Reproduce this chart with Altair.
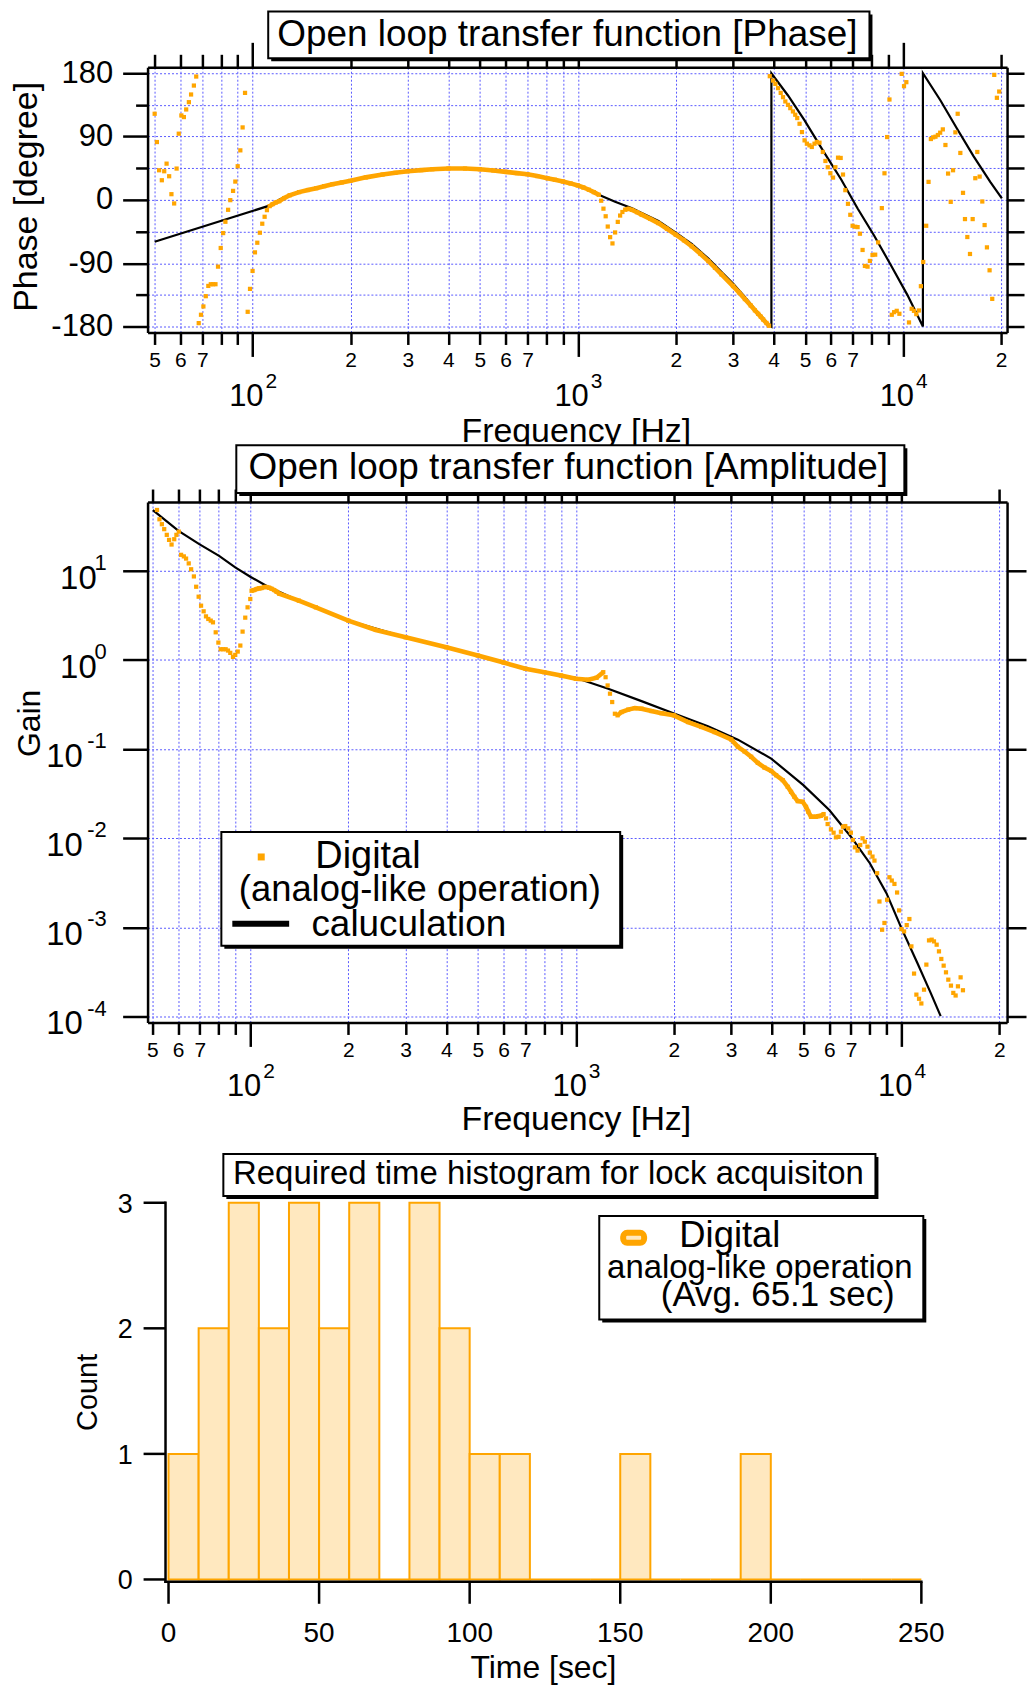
import altair as alt
import pandas as pd

FONT = "Liberation Sans"
ORANGE = "#FFA500"
LIGHT_ORANGE = "#FFE8BF"
GRID_BLUE = "#5a5aff"

# ============================ DATA ============================
# ---- Panel 1: open-loop phase [degree] vs frequency [Hz] ----
# measured (Digital, analog-like operation): scattered low-frequency points
PH_LOW_F = [50.0, 50.8, 51.6, 52.6, 53.5, 54.4, 55.4, 56.3, 57.4, 58.4, 59.3, 60.4, 61.5, 62.5,
            63.7, 64.7, 66.0, 67.1, 68.3, 69.4, 70.6, 71.8, 73.1, 74.4, 75.6, 76.9, 78.3, 79.8,
            81.2, 82.5, 84.1, 85.4, 87.1, 88.5, 90.0, 91.7, 93.2, 94.8, 96.6, 98.2, 100.0, 101.7,
            103.4, 105.3, 107.1, 108.9, 110.7]
PH_LOW_DEG = [122.4, 82.2, 42.1, 27.9, 40.7, 51.5, 33.6, 8.1, -5.1, 44.5, 94.1, 120.0, 117.7, 128.5,
              138.9, 149.8, 162.5, 175.3, -175.2, -163.3, -151.5, -136.9, -122.3, -119.9, -119.9,
              -119.9, -94.9, -68.4, -47.2, -31.1, -14.1, -0.4, 12.8, 26.0, 47.8, 70.4, 103.0, 152.1,
              -159.1, -126.5, -101.0, -74.6, -60.9, -46.7, -33.9, -24.0, -14.6]
# measured: dense band 113 Hz - 1.16 kHz
PH_BAND1_F = [112.8, 115.2, 117.9, 120.8, 125, 130, 139, 148, 157, 166, 176, 188, 200, 223, 251, 275,
              300, 330, 357, 400, 450, 500, 550, 600, 650, 700, 750, 806, 850, 900, 950, 1000, 1040,
              1081, 1120, 1160]
PH_BAND1_DEG = [-8.9, -6.1, -3.7, -1.8, 2.5, 6.5, 11.0, 14.0, 16.6, 19.5, 22.3, 24.8, 27.1, 32.0, 36.0,
                38.5, 40.7, 42.3, 43.5, 44.5, 44.5, 43.5, 41.8, 39.8, 38.0, 36.4, 33.8, 30.8, 28.6,
                26.1, 23.4, 20.5, 17.6, 14.4, 11.0, 7.3]
# measured: notch around 1.2-1.4 kHz
PH_DIP_F = [1180, 1199, 1218, 1236, 1257, 1278, 1302, 1327, 1349, 1371]
PH_DIP_DEG = [-1.2, -12.5, -23.3, -37.9, -53.0, -61.9, -46.3, -31.3, -22.3, -17.2]
# measured: dense band 1.4 - 3.9 kHz
PH_BAND2_F = [1398, 1430, 1468, 1520, 1571, 1670, 1769, 1880, 2000, 2120, 2239, 2380, 2520, 2640,
              2766, 3000, 3130, 3263, 3400, 3503, 3585, 3652, 3713, 3801, 3873]
PH_BAND2_DEG = [-13.9, -12.8, -14.2, -17.5, -21.0, -27.0, -33.0, -41.0, -49.5, -57.5, -66.0, -76.5,
                -87.0, -96.5, -106.0, -122.5, -131.5, -141.0, -150.0, -157.0, -162.0, -166.0,
                -170.0, -175.0, -179.0]
# measured: high-frequency points
PH_HIGH_F = [3892, 3985, 4050, 4127, 4205, 4275, 4345, 4428, 4500, 4585, 4661, 4727, 4805, 4887,
             4979, 5061, 5156, 5241, 5341, 5429, 5534, 5665, 5771, 5868, 5977, 6091, 6193, 6310,
             6429, 6536, 6644, 6770, 6882, 6996, 7129, 7247, 7369, 7508, 7632, 7777, 7906, 8055,
             8209, 8383, 8603, 8767, 8934, 9082, 9232, 9384, 9561, 9743, 9904, 10067, 10235, 10428,
             10626, 10801, 10980, 11186, 11344, 11534, 11780, 11977, 12175, 12378, 12580, 12794,
             13004, 13250, 13497, 13752, 14013, 14244, 14481, 14720, 15000, 15287, 15500, 15760,
             16060, 16368, 16676, 16913, 17197, 17522, 17811, 18108, 18450, 18801, 19067, 19430,
             19751]
PH_HIGH_DEG = [175.8, 169.6, 164.9, 158.8, 152.1, 146.0, 139.9, 135.1, 130.4, 125.7, 121.0, 116.3,
               108.2, 96.4, 84.6, 79.9, 77.5, 75.2, 79.9, 82.3, 81.3, 68.1, 55.3, 46.4, 37.9, 31.7,
               46.4, 60.0, 59.6, 36.0, 13.8, -5.6, -21.2, -36.8, -38.2, -38.7, -48.1, -71.2, -93.9,
               -94.9, -86.8, -78.3, -77.9, -60.4, -11.7, 37.8, 89.3, 142.7, -163.3, -159.6, -157.7,
               -161.9, 179.1, 161.6, 167.3, -174.2, -154.8, -157.7, -162.4, -157.2, -122.7, -88.3,
               -36.8, 25.6, 86.5, 88.9, 89.8, 92.2, 95.5, 100.2, 78.0, 37.4, -2.8, 42.1, 96.0, 122.4,
               66.7, 10.0, -27.3, -52.8, -76.9, -27.3, 30.8, 68.1, 33.1, -2.3, -35.8, -67.5, -100.1,
               -140.7, 177.7, 145.1, 154.0]
# calculation (drawn in order; wraps at +-180)
PH_CALC_F = [50.0, 113.9, 121, 130, 139, 157, 176, 200, 223, 251, 300, 357, 400, 450, 500, 550, 600,
             700, 806, 900, 1000, 1081, 1160, 1302, 1468, 1571, 1769, 2000, 2239, 2520, 2766, 3000,
             3263, 3500, 3712, 3848, 3937, 3937, 4428, 4979, 5691, 6446, 7249, 8152, 9167, 10307,
             11508, 11508, 13034, 14657, 16481, 18535, 20125]
PH_CALC_DEG = [-59.5, -7.5, 0.5, 6.5, 11.0, 16.6, 22.3, 27.1, 32.0, 36.0, 40.7, 43.5, 44.5, 44.5,
               43.5, 41.8, 39.8, 36.4, 30.8, 26.1, 20.5, 14.4, 7.3, -2.8, -12.0, -18.5, -30.0, -46.5,
               -62.5, -83.5, -102.5, -119.0, -138.0, -155.0, -168.0, -176.5, -180.0, 180.0, 148.4,
               112.9, 69.0, 29.4, -12.2, -50.9, -92.5, -135.0, -180.0, 180.0, 141.3, 101.1, 61.9,
               25.6, 2.0]

# ---- Panel 2: open-loop gain vs frequency [Hz] ----
AMP_LOW_F = [51.7, 52.6, 53.5, 54.4, 55.4, 56.3, 57.3, 58.4, 59.3, 60.3, 61.3, 62.5, 63.5, 64.7, 65.8,
             67.1, 68.2, 69.4, 70.6, 71.9, 73.1, 74.3, 75.6, 76.8, 78.3, 79.8, 81.1, 82.5, 84.0, 85.4,
             86.8, 88.5, 89.9, 91.5, 93.2, 94.7, 96.5, 98.1, 100.0]
AMP_LOW_G = [48.1, 37.8, 33.3, 29.3, 25.3, 22.2, 19.7, 22.6, 25.3, 27.5, 15.1, 14.5, 13.7, 12.1, 10.4,
             8.64, 6.62, 5.12, 4.06, 3.51, 3.08, 2.88, 2.76, 2.64, 2.04, 1.565, 1.318, 1.318, 1.318,
             1.274, 1.20, 1.082, 1.139, 1.241, 1.449, 2.078, 2.98, 3.89, 4.82]
AMP_BAND1_F = [100.9, 102.8, 104.5, 106.5, 108.3, 110.4, 112.2, 114.3, 116.2, 118.4, 120.4, 122.7, 141,
               159, 200, 243, 300, 400, 500, 600, 700, 800, 900, 1000, 1092, 1158, 1214]
AMP_BAND1_G = [5.97, 6.08, 6.24, 6.35, 6.40, 6.57, 6.57, 6.45, 6.29, 6.08, 5.82, 5.53, 4.62, 3.89, 2.76,
               2.17, 1.795, 1.387, 1.12, 0.935, 0.795, 0.729, 0.669, 0.614, 0.599, 0.631, 0.729]
AMP_DROP_F = [1234, 1252, 1273, 1293, 1318]
AMP_DROP_G = [0.64, 0.517, 0.418, 0.337, 0.249]
AMP_BAND2_F = [1343, 1381, 1448, 1518, 1591, 1707, 1831, 2000, 2211, 2428, 2669, 3000, 3146, 3297,
               3455, 3622, 3797, 3979, 4123, 4320, 4476, 4581, 4692, 4803, 4975, 5093, 5177, 5276,
               5362, 5465, 5557, 5661, 5768]
AMP_BAND2_G = [0.239, 0.26, 0.277, 0.288, 0.284, 0.267, 0.253, 0.239, 0.201, 0.177, 0.155, 0.128,
               0.106, 0.094, 0.082, 0.070, 0.062, 0.057, 0.0509, 0.0448, 0.0377, 0.0331, 0.0291,
               0.0261, 0.0256, 0.0225, 0.0198, 0.0174, 0.0174, 0.0174, 0.0177, 0.01786, 0.01865]
AMP_HIGH_F = [5865, 5934, 6075, 6190, 6293, 6412, 6519, 6612, 6722, 6866, 6996, 7096, 7197, 7333, 7472,
              7595, 7721, 7865, 7998, 8150, 8265, 8422, 8561, 8724, 8868, 9037, 9189, 9341, 9518,
              9698, 9837, 10000, 10190, 10383, 10580, 10731, 10935, 11116, 11327, 11514, 11733,
              11929, 12155, 12386, 12590, 12830, 13042, 13260, 13482, 13705, 13932, 14196, 14433,
              14672, 14916, 15199, 15452]
AMP_HIGH_G = [0.01668, 0.01442, 0.01257, 0.01153, 0.01023, 0.0104, 0.01183, 0.01346, 0.01369, 0.0129,
              0.01153, 0.00955, 0.0079, 0.00726, 0.00839, 0.00997, 0.00915, 0.00804, 0.00689,
              0.00622, 0.00561, 0.00405, 0.00195, 0.00094, 0.00112, 0.00204, 0.00365, 0.00335,
              0.00307, 0.00246, 0.00155, 0.000956, 0.0009, 0.00106, 0.00124, 0.000612, 0.000303,
              0.000176, 0.000158, 0.00014, 0.0002, 0.000382, 0.000714, 0.000727, 0.000696, 0.000639,
              0.000538, 0.000442, 0.000372, 0.000313, 0.000259, 0.000222, 0.000184, 0.000172,
              0.000218, 0.000275, 0.000197]
AMP_CALC_F = [50.2, 60.2, 69.7, 80.2, 89.9, 100, 113, 141, 200, 300, 400, 500, 600, 700, 800, 900, 997,
              1257, 1591, 2012, 2545, 3146, 3981, 4998, 6003, 6996, 7998, 8995, 9953, 11194, 12298,
              13199]
AMP_CALC_G = [47.8, 28.0, 19.9, 14.7, 10.9, 8.57, 6.67, 4.62, 2.76, 1.795, 1.387, 1.12, 0.935, 0.795,
              0.729, 0.669, 0.631, 0.475, 0.345, 0.249, 0.18, 0.1276, 0.0782, 0.0394, 0.0207, 0.0104,
              0.00524, 0.00242, 0.00102, 0.000398, 0.000184, 0.000101]

# ---- Panel 3: histogram of lock-acquisition time ----
HIST_BIN_START = [0, 10, 20, 30, 40, 50, 60, 70, 80, 90, 100, 110, 120, 130, 140, 150, 160, 170, 180,
                  190, 200, 210, 220, 230, 240]
HIST_COUNT = [1, 2, 3, 2, 3, 2, 3, 0, 3, 2, 1, 1, 0, 0, 0, 1, 0, 0, 0, 1, 0, 0, 0, 0, 0]
HIST_BIN_WIDTH = 10

# ---- ticks / labels ----
FREQ_TICKS = [50, 60, 70, 80, 90, 100, 200, 300, 400, 500, 600, 700, 800, 900,
              1000, 2000, 3000, 4000, 5000, 6000, 7000, 8000, 9000, 10000, 20000]
FREQ_TICK_TEXT = ["5", "6", "7", "", "", "", "2", "3", "4", "5", "6", "7", "", "",
                  "", "2", "3", "4", "5", "6", "7", "", "", "", "2"]
DECADE_FREQ = [100, 1000, 10000]
DECADE_FREQ_EXP = ["2", "3", "4"]
PHASE_TICKS = [-180, -135, -90, -45, 0, 45, 90, 135, 180]
GAIN_DECADE_EXP = [1, 0, -1, -2, -3, -4]
HIST_X_TICKS = [0, 50, 100, 150, 200, 250]
HIST_Y_TICKS = [0, 1, 2, 3]

# ============================ HELPERS ============================
ONE = pd.DataFrame({"k": [0]})
MAJOR_TEST = "indexof([" + ",".join(map(str, DECADE_FREQ)) + "], datum.value) >= 0"
FREQ_LABEL_EXPR = ("[" + ",".join("'%s'" % t for t in FREQ_TICK_TEXT) + "][indexof(["
                   + ",".join(map(str, FREQ_TICKS)) + "], datum.value)]")
GRID = dict(grid=True, gridColor=GRID_BLUE, gridDash=[2, 2], gridWidth=1, gridOpacity=1)


def cond(test, big, small):
    return {"condition": {"test": test, "value": big}, "value": small}


def axis(**kw):
    base = dict(title=None, tickColor="black", tickWidth=2.5, domainColor="black", domainWidth=2.5,
                labelFont=FONT, labelColor="black", labelOverlap=False, labelFlush=False, grid=False)
    base.update(kw)
    return alt.Axis(**base)


def text(t, x, y, size, align="center", baseline="alphabetic", angle=None):
    kw = dict(text=t, fontSize=size, align=align, baseline=baseline, font=FONT, color="black")
    if angle is not None:
        kw["angle"] = angle
    return alt.Chart(ONE).mark_text(**kw).encode(x=alt.value(x), y=alt.value(y))


def framed_box(x1, x2, y1, y2, shadow=3):
    sh = alt.Chart(ONE).mark_rect(color="black").encode(
        x=alt.value(x1 + shadow), x2=alt.value(x2 + shadow),
        y=alt.value(y1 + shadow), y2=alt.value(y2 + shadow))
    bx = alt.Chart(ONE).mark_rect(fill="white", stroke="black", strokeWidth=2).encode(
        x=alt.value(x1), x2=alt.value(x2), y=alt.value(y1), y2=alt.value(y2))
    return [sh, bx]


def decade_labels(xs, h):
    d = pd.DataFrame({"f": DECADE_FREQ, "e": DECADE_FREQ_EXP})
    base = alt.Chart(d).mark_text(text="10", fontSize=31, align="right", dx=11, baseline="alphabetic",
                                  font=FONT, color="black").encode(
        x=alt.X("f:Q", scale=xs, axis=None), y=alt.value(h + 74))
    ex = alt.Chart(d).mark_text(fontSize=21, align="left", dx=13, baseline="alphabetic",
                                font=FONT, color="black").encode(
        x=alt.X("f:Q", scale=xs, axis=None), y=alt.value(h + 56), text="e:N")
    return [base, ex]


def meas_layers(xs, ys, pts_df, band_df, bottom_ax, left_ax):
    band = alt.Chart(band_df).mark_line(color=ORANGE, strokeWidth=4.6).encode(
        x=alt.X("f:Q", scale=xs, axis=None), y=alt.Y("v:Q", scale=ys, axis=None), detail="seg:N")
    pts = alt.Chart(pts_df).mark_square(size=18, color=ORANGE, opacity=1).encode(
        x=alt.X("f:Q", scale=xs, axis=bottom_ax), y=alt.Y("v:Q", scale=ys, axis=left_ax))
    return [band, pts]


def bottom_freq_axis():
    return axis(orient="bottom", values=FREQ_TICKS, labelExpr=FREQ_LABEL_EXPR,
                tickSize=cond(MAJOR_TEST, 24, 12), labelFontSize=21, labelPadding=5, **GRID)


def top_freq_axis():
    return axis(orient="top", values=FREQ_TICKS, labels=False, tickSize=cond(MAJOR_TEST, 25, 13))


# ============================ PANEL 1: PHASE ============================
PH_W, PH_H = 862, 266
PH_X = alt.Scale(type="log", domain=[47.55, 20880], nice=False)
PH_Y = alt.Scale(type="linear", domain=[-188.5, 188.5], nice=False, zero=False)

ph_pts_df = pd.DataFrame({"f": PH_LOW_F + PH_BAND1_F + PH_DIP_F + PH_BAND2_F + PH_HIGH_F,
                          "v": PH_LOW_DEG + PH_BAND1_DEG + PH_DIP_DEG + PH_BAND2_DEG + PH_HIGH_DEG})
ph_band_df = pd.DataFrame({"f": PH_BAND1_F + PH_BAND2_F, "v": PH_BAND1_DEG + PH_BAND2_DEG,
                           "seg": [1] * len(PH_BAND1_F) + [2] * len(PH_BAND2_F)})
ph_calc_df = pd.DataFrame({"f": PH_CALC_F, "v": PH_CALC_DEG, "i": list(range(len(PH_CALC_F)))})

anchor = alt.Chart(ONE).mark_rect(opacity=0).encode(
    x=alt.value(-148), x2=alt.value(0), y=alt.value(-65), y2=alt.value(0))

ph_calc = alt.Chart(ph_calc_df).mark_line(color="black", strokeWidth=2.2).encode(
    x=alt.X("f:Q", scale=PH_X, axis=top_freq_axis()),
    y=alt.Y("v:Q", scale=PH_Y, axis=axis(orient="right", values=PHASE_TICKS, labels=False, tickSize=17)),
    order=alt.Order("i:Q"))

ph_left = axis(orient="left", values=PHASE_TICKS,
               labelExpr="datum.value % 90 == 0 ? '' + datum.value : ''",
               tickSize=cond("datum.value % 90 == 0", 25, 12), labelFontSize=31, labelPadding=10, **GRID)

phase = alt.layer(
    anchor, ph_calc,
    *meas_layers(PH_X, PH_Y, ph_pts_df, ph_band_df, bottom_freq_axis(), ph_left),
    *framed_box(121, 724, -56, -9),
    text("Open loop transfer function [Phase]", 421, -21, 37),
    *decade_labels(PH_X, PH_H),
    text("Frequency [Hz]", 430, PH_H + 110, 34),
    text("Phase [degree]", -121, 130, 34, baseline="middle", angle=270),
).properties(width=PH_W, height=PH_H)

# ============================ PANEL 2: AMPLITUDE ============================
AMP_W, AMP_H = 862, 522
AMP_X = alt.Scale(type="log", domain=[48.36, 21110], nice=False)
AMP_Y = alt.Scale(type="log", domain=[8.57e-5, 59.1], nice=False)

amp_pts_df = pd.DataFrame({"f": AMP_LOW_F + AMP_BAND1_F + AMP_DROP_F + AMP_BAND2_F + AMP_HIGH_F,
                           "v": AMP_LOW_G + AMP_BAND1_G + AMP_DROP_G + AMP_BAND2_G + AMP_HIGH_G})
amp_band_df = pd.DataFrame({"f": AMP_BAND1_F + AMP_BAND2_F, "v": AMP_BAND1_G + AMP_BAND2_G,
                            "seg": [1] * len(AMP_BAND1_F) + [2] * len(AMP_BAND2_F)})
amp_calc_df = pd.DataFrame({"f": AMP_CALC_F, "v": AMP_CALC_G, "i": list(range(len(AMP_CALC_F)))})

gain_ticks = [10.0 ** e for e in GAIN_DECADE_EXP]
amp_calc = alt.Chart(amp_calc_df).mark_line(color="black", strokeWidth=2.2).encode(
    x=alt.X("f:Q", scale=AMP_X, axis=top_freq_axis()),
    y=alt.Y("v:Q", scale=AMP_Y, axis=axis(orient="right", values=gain_ticks, labels=False, tickSize=19)),
    order=alt.Order("i:Q"))
amp_left = axis(orient="left", values=gain_ticks, labels=False, tickSize=25, **GRID)

gexp = pd.DataFrame({"e": GAIN_DECADE_EXP})
gexp["g"] = 10.0 ** gexp["e"]
gexp["t"] = gexp["e"].astype(str)
gpos = gexp[gexp["e"] >= 0]
gneg = gexp[gexp["e"] < 0]


def gain_labels(d, base_x):
    b = alt.Chart(d).mark_text(text="10", fontSize=33, align="right", baseline="alphabetic", dy=18,
                               font=FONT, color="black").encode(
        x=alt.value(base_x), y=alt.Y("g:Q", scale=AMP_Y, axis=None))
    e = alt.Chart(d).mark_text(fontSize=22, align="right", baseline="alphabetic", dy=-1,
                               font=FONT, color="black").encode(
        x=alt.value(-41), y=alt.Y("g:Q", scale=AMP_Y, axis=None), text="t:N")
    return [b, e]


amp_legend = [
    *framed_box(74, 474, 331, 445),
    alt.Chart(ONE).mark_square(size=49, color=ORANGE, opacity=1).encode(x=alt.value(114), y=alt.value(356)),
    text("Digital", 221, 367, 38),
    text("(analog-like operation)", 273, 400, 36.5),
    alt.Chart(ONE).mark_rule(color="black", strokeWidth=6).encode(
        x=alt.value(85), x2=alt.value(142), y=alt.value(423)),
    text("caluculation", 262, 435, 37),
]

amp = alt.layer(
    amp_calc,
    *meas_layers(AMP_X, AMP_Y, amp_pts_df, amp_band_df, bottom_freq_axis(), amp_left),
    *framed_box(89, 759, -57, -9),
    text("Open loop transfer function [Amplitude]", 422, -23, 37),
    *decade_labels(AMP_X, AMP_H),
    *gain_labels(gpos, -51),
    *gain_labels(gneg, -65),
    text("Frequency [Hz]", 430, AMP_H + 108, 34),
    text("Gain", -118, 222, 32, baseline="middle", angle=270),
    *amp_legend,
).properties(width=AMP_W, height=AMP_H)

# ============================ PANEL 3: HISTOGRAM ============================
HI_W, HI_H = 826, 391
HX = alt.Scale(domain=[-1, 272.5], nice=False, zero=False)
HY_MIN, HY_MAX = -0.019, 3.0859
HY = alt.Scale(domain=[HY_MIN, HY_MAX], nice=False, zero=False)

hist_df = pd.DataFrame({"start": HIST_BIN_START, "count": HIST_COUNT})
hist_df["end"] = hist_df["start"] + HIST_BIN_WIDTH

bars = alt.Chart(hist_df).mark_rect(fill=LIGHT_ORANGE, stroke=ORANGE, strokeWidth=2).encode(
    x=alt.X("start:Q", scale=HX, axis=None),
    x2="end",
    y=alt.Y("count:Q", scale=HY, axis=None),
    y2=alt.Y2(datum=0))

x_line = alt.Chart(ONE).mark_rule(color="black", strokeWidth=2.5, strokeCap="square").encode(
    x=alt.X(datum=-1, scale=HX, axis=None), x2=alt.X2(datum=250),
    y=alt.Y(datum=HY_MIN, scale=HY, axis=None))
y_line = alt.Chart(ONE).mark_rule(color="black", strokeWidth=2.5, strokeCap="square").encode(
    x=alt.X(datum=-1, scale=HX, axis=None),
    y=alt.Y(datum=HY_MIN, scale=HY, axis=None), y2=alt.Y2(datum=3))

# axis ticks and tick labels of the histogram, placed through the scales
hxt = pd.DataFrame({"x": HIST_X_TICKS})
hxt["lab"] = hxt["x"].astype(str)
hyt = pd.DataFrame({"y": HIST_Y_TICKS})
hyt["lab"] = hyt["y"].astype(str)

x_ticks = alt.Chart(hxt).mark_rule(color="black", strokeWidth=2.5).encode(
    x=alt.X("x:Q", scale=HX, axis=None), y=alt.value(HI_H), y2=alt.value(HI_H + 22))
x_tick_labels = alt.Chart(hxt).mark_text(fontSize=28, align="center", baseline="alphabetic",
                                         font=FONT, color="black").encode(
    x=alt.X("x:Q", scale=HX, axis=None), y=alt.value(HI_H + 60), text="lab:N")
y_ticks = alt.Chart(hyt).mark_rule(color="black", strokeWidth=2.5).encode(
    y=alt.Y("y:Q", scale=HY, axis=None), x=alt.value(-22), x2=alt.value(0))
y_tick_labels = alt.Chart(hyt).mark_text(fontSize=27, align="right", baseline="alphabetic", dy=10,
                                         font=FONT, color="black").encode(
    y=alt.Y("y:Q", scale=HY, axis=None), x=alt.value(-33), text="lab:N")

swatch = alt.Chart(ONE).mark_rect(fill=LIGHT_ORANGE, stroke=ORANGE, strokeWidth=6, cornerRadius=4).encode(
    x=alt.value(459), x2=alt.value(480), y=alt.value(41), y2=alt.value(51))

hist = alt.layer(
    bars, x_line, y_line, x_ticks, x_tick_labels, y_ticks, y_tick_labels,
    *framed_box(58, 712, -38, 4),
    text("Required time histogram for lock acquisiton", 384, -8, 33),
    *framed_box(435, 760, 24, 128),
    swatch,
    text("Digital", 566, 55, 36.5),
    text("analog-like operation", 596, 86, 33),
    text("(Avg. 65.1 sec)", 614, 114, 35),
    text("Count", -78, 201, 29, baseline="middle", angle=270),
    text("Time [sec]", 379, 487, 32),
).properties(width=HI_W, height=HI_H)

chart = alt.vconcat(phase, amp, hist, spacing=170, bounds="flush", center=True).properties(
    padding=0).configure(font=FONT).configure_view(strokeWidth=0)

chart.save("out.html", embed_options={"renderer": "svg", "actions": False})
